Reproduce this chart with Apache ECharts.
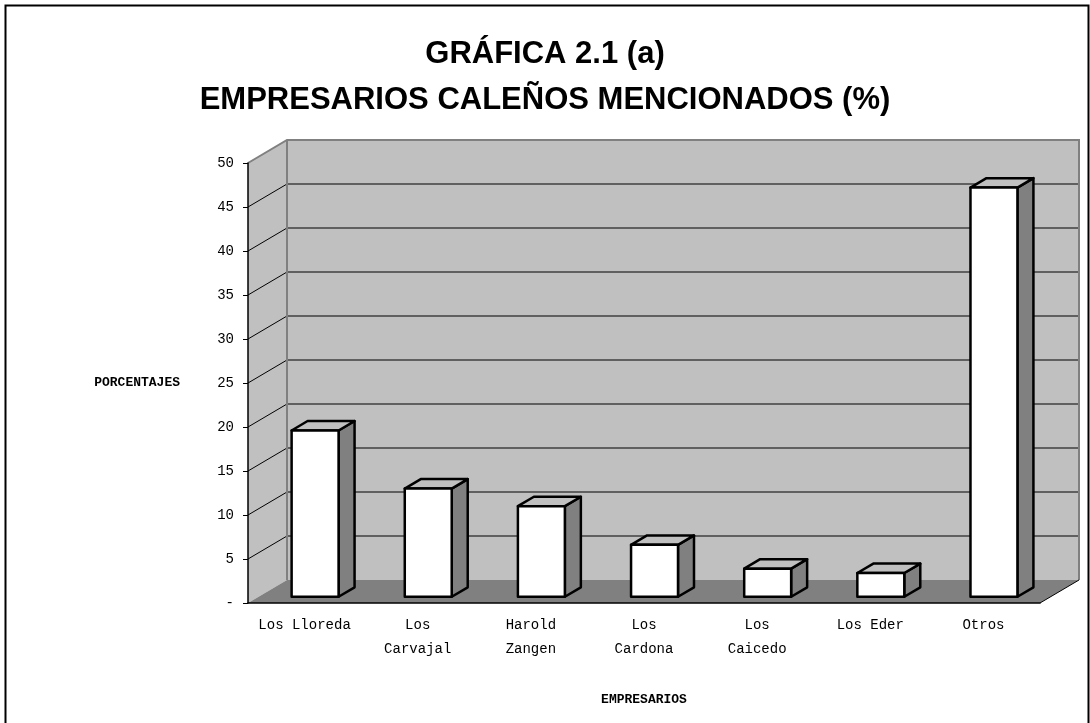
<!DOCTYPE html>
<html>
<head>
<meta charset="utf-8">
<script src="https://cdn.jsdelivr.net/npm/echarts@6/dist/echarts.min.js"></script>
<style>
  html, body { margin: 0; padding: 0; background: #fff; }
  #chart { width: 1090px; height: 723px; }
</style>
</head>
<body>
<div id="chart"></div>
<script>
// datos
const categories = ['Los Lloreda', 'Los\nCarvajal', 'Harold\nZangen', 'Los\nCardona', 'Los\nCaicedo', 'Los Eder', 'Otros']
const percentages = [18.9, 12.3, 10.3, 5.9, 3.2, 2.7, 46.5]
const yTicks = [0, 5, 10, 15, 20, 25, 30, 35, 40, 45, 50]

// estilo "3D" de Excel
const DX = 39, DY = -23      // profundidad del fondo
const F0 = 0.27, F1 = 0.68   // posición de la barra en la profundidad
const BAR_RATIO = 0.415
const WALL = '#c0c0c0'
const FLOOR = '#808080'
const EDGE = '#808080'
const MONO = '"Liberation Mono", "DejaVu Sans Mono", monospace'

const chart = echarts.init(document.getElementById('chart'))

// paredes, piso y líneas de la cuadrícula
function renderWalls(params, api) {
  const cs = params.coordSys
  const x0 = cs.x, x1 = cs.x + cs.width
  const y0 = cs.y, y1 = cs.y + cs.height
  const children = [
    { type: 'polygon', shape: { points: [[x0 + DX, y0 + DY], [x1 + DX, y0 + DY], [x1 + DX, y1 + DY], [x0 + DX, y1 + DY]] }, style: { fill: WALL } },
    { type: 'polygon', shape: { points: [[x0, y0], [x0 + DX, y0 + DY], [x0 + DX, y1 + DY], [x0, y1]] }, style: { fill: WALL } },
    { type: 'polygon', shape: { points: [[x0, y1], [x1, y1], [x1 + DX, y1 + DY], [x0 + DX, y1 + DY]] }, style: { fill: FLOOR } },
  ]
  yTicks.forEach(t => {
    if (t === 0 || t === yTicks[yTicks.length - 1]) return
    const y = api.coord([0, t])[1]
    children.push({ type: 'line', shape: { x1: x0 + DX, y1: y + DY, x2: x1 + DX, y2: y + DY }, style: { stroke: '#000', lineWidth: 1 } })
    children.push({ type: 'line', shape: { x1: x0, y1: y, x2: x0 + DX, y2: y + DY }, style: { stroke: '#000', lineWidth: 1 } })
  })
  // bordes grises
  children.push({ type: 'polyline', shape: { points: [[x0, y0], [x0 + DX, y0 + DY], [x1 + DX, y0 + DY], [x1 + DX, y1 + DY]] }, style: { stroke: EDGE, lineWidth: 2, fill: null } })
  children.push({ type: 'line', shape: { x1: x0 + DX, y1: y0 + DY, x2: x0 + DX, y2: y1 + DY }, style: { stroke: EDGE, lineWidth: 2 } })
  children.push({ type: 'line', shape: { x1: x1, y1: y1, x2: x1 + DX, y2: y1 + DY }, style: { stroke: '#000', lineWidth: 1 } })
  return { type: 'group', children }
}

// barra tipo caja
function renderBar(params, api) {
  const c = api.value(0), v = api.value(1)
  const base = api.coord([c, 0])
  const top = api.coord([c, v])
  const w = api.size([1, 0])[0] * BAR_RATIO
  const fx = DX * F0, fy = DY * F0
  const bx = DX * (F1 - F0), by = DY * (F1 - F0)
  const l = base[0] - w / 2 + fx, r = l + w
  const b = base[1] + fy, t = top[1] + fy
  const line = { stroke: '#000', lineWidth: 2.5, lineJoin: 'round' }
  return {
    type: 'group',
    children: [
      { type: 'polygon', shape: { points: [[r, t], [r + bx, t + by], [r + bx, b + by], [r, b]] }, style: { fill: '#808080', ...line } },
      { type: 'polygon', shape: { points: [[l, t], [r, t], [r + bx, t + by], [l + bx, t + by]] }, style: { fill: '#c0c0c0', ...line } },
      { type: 'rect', shape: { x: l, y: t, width: w, height: b - t }, style: { fill: '#fff', ...line } },
    ],
  }
}

const option = {
  backgroundColor: '#fff',
  animation: false,
  title: {
    text: 'GRÁFICA 2.1 (a)\nEMPRESARIOS CALEÑOS MENCIONADOS (%)',
    left: 'center',
    top: 26,
    textStyle: { fontFamily: '"Liberation Sans", Arial, sans-serif', fontWeight: 'bold', fontSize: 31, lineHeight: 46, color: '#000' },
  },
  graphic: [
    { type: 'rect', left: 3, top: 3, shape: { width: 1083, height: 740 }, style: { fill: null, stroke: '#000', lineWidth: 2 }, silent: true },
  ],
  grid: { left: 248, right: 50, top: 163, bottom: 120 },
  xAxis: {
    type: 'category',
    data: categories,
    z: 5,
    name: 'EMPRESARIOS',
    nameLocation: 'middle',
    nameGap: 90,
    nameTextStyle: { fontFamily: MONO, fontWeight: 'bold', fontSize: 13, color: '#000' },
    axisLine: { lineStyle: { color: '#000', width: 1.5 } },
    axisTick: { length: 6, lineStyle: { color: '#000' } },
    axisLabel: { interval: 0, margin: 10, lineHeight: 24, fontFamily: MONO, fontSize: 14, color: '#000' },
  },
  yAxis: {
    type: 'value',
    min: 0,
    max: 50,
    interval: 5,
    z: 5,
    name: 'PORCENTAJES',
    nameLocation: 'middle',
    nameRotate: 0,
    nameGap: 68,
    nameTextStyle: { fontFamily: MONO, fontWeight: 'bold', fontSize: 13, color: '#000', align: 'right' },
    axisLine: { show: true, lineStyle: { color: '#000', width: 1.5 } },
    axisTick: { show: true, length: 5, lineStyle: { color: '#000' } },
    splitLine: { show: false },
    axisLabel: { margin: 14, fontFamily: MONO, fontSize: 14, color: '#000', formatter: v => (v === 0 ? '-' : String(v)) },
  },
  series: [
    { type: 'custom', z: 1, clip: false, silent: true, renderItem: renderWalls, data: [[0, 0]] },
    { type: 'custom', z: 2, clip: false, renderItem: renderBar, data: percentages.map((v, i) => [i, v]) },
  ],
}

chart.setOption(option)
window.addEventListener('resize', () => chart.resize())
</script>
</body>
</html>
